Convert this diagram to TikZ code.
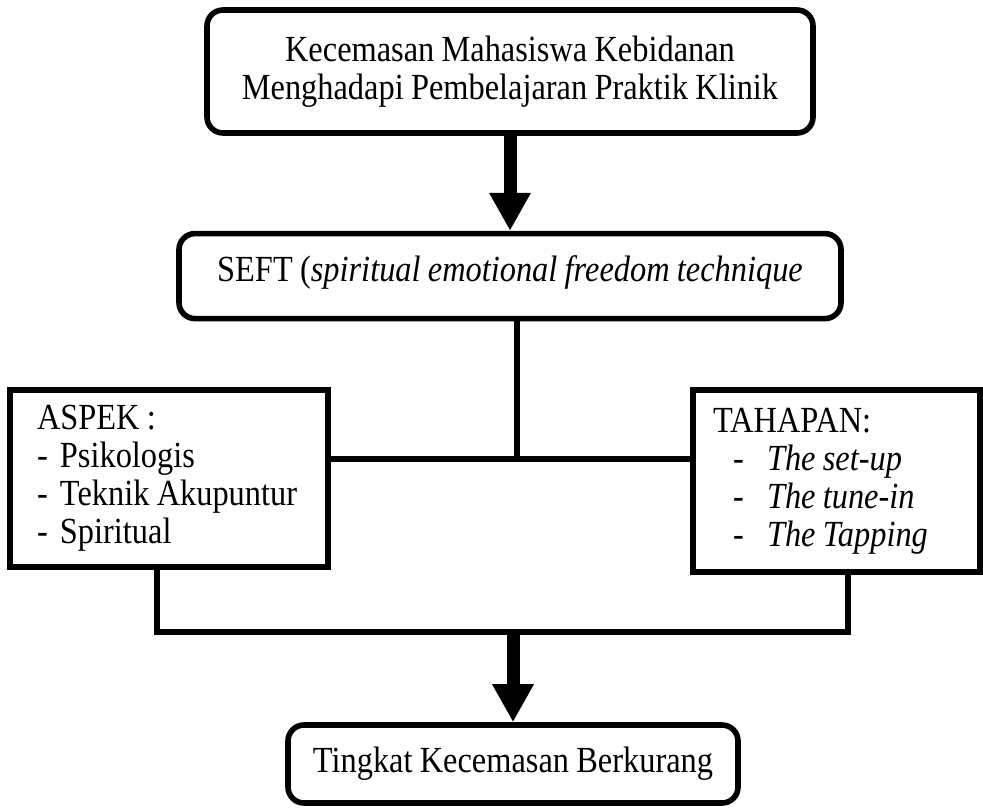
\documentclass[tikz,border=0pt]{standalone}
\usepackage{fontspec}
\setmainfont{Liberation Serif}[FakeStretch=0.88,WordSpace=0.9]
\usetikzlibrary{arrows.meta,positioning}

\begin{document}
\begin{tikzpicture}[
    x=0.5pt,y=-0.5pt,
    font=\fontsize{18.4pt}{19pt}\selectfont,
    roundbox/.style={draw,line width=2.8pt,rounded corners=8pt,align=center},
    listbox/.style={draw,line width=3pt,align=left,execute at begin node={\spaceskip=0pt\relax}},
    link/.style={line width=3pt},
    bigarrow/.style={-{Triangle[width=19.5pt,length=19pt]},line width=6.5pt}
  ]
    \useasboundingbox (0,0) rectangle (983,807);
    \node[roundbox,minimum width=303pt,minimum height=61.5pt] (masalah) at (510,71.5)
      {Kecemasan Mahasiswa Kebidanan\\Menghadapi Pembelajaran Praktik Klinik};
    \node[roundbox,minimum width=331pt,inner ysep=0pt,text height=24pt,text depth=18.5pt,below=47.5pt of masalah] (seft)
      {SEFT (\textit{spiritual emotional freedom technique}};
    \node[listbox,minimum width=159pt,minimum height=88.5pt,text width=132pt,inner xsep=13.5pt] (aspek) at (169,478.5)
      {ASPEK :\\
       \makebox[11.5pt][l]{-}\mbox{Psikologis}\\
       \makebox[11.5pt][l]{-}\mbox{Teknik Akupuntur}\\
       \makebox[11.5pt][l]{-}\mbox{Spiritual}};
    \node[listbox,minimum width=143.5pt,minimum height=91pt,text width=123.5pt,inner xsep=10pt] (tahapan) at (836.5,481)
      {TAHAPAN:\\
       \hspace*{10pt}\makebox[17pt][l]{-}\mbox{\textit{The set-up}}\\
       \hspace*{10pt}\makebox[17pt][l]{-}\mbox{\textit{The tune-in}}\\
       \hspace*{10pt}\makebox[17pt][l]{-}\mbox{\textit{The Tapping}}};
    \node[roundbox,minimum width=225pt,minimum height=39pt] (hasil) at (513,764)
      {Tingkat Kecemasan Berkurang};
    \coordinate (mid) at (517,459);
    \coordinate (kiri) at (157,632);
    \coordinate (kanan) at (848,632);
    \draw[bigarrow] (masalah.south -| seft.north) -- (seft.north);
    \draw[link] (seft.south -| mid) -- (mid);
    \draw[link] (aspek.east |- mid) -- (tahapan.west |- mid);
    \draw[link] (aspek.south -| kiri) -- (kiri) -- (kanan) -- (tahapan.south -| kanan);
    \draw[bigarrow] (hasil.north |- kiri) -- (hasil.north);
  \end{tikzpicture}
\end{document}
